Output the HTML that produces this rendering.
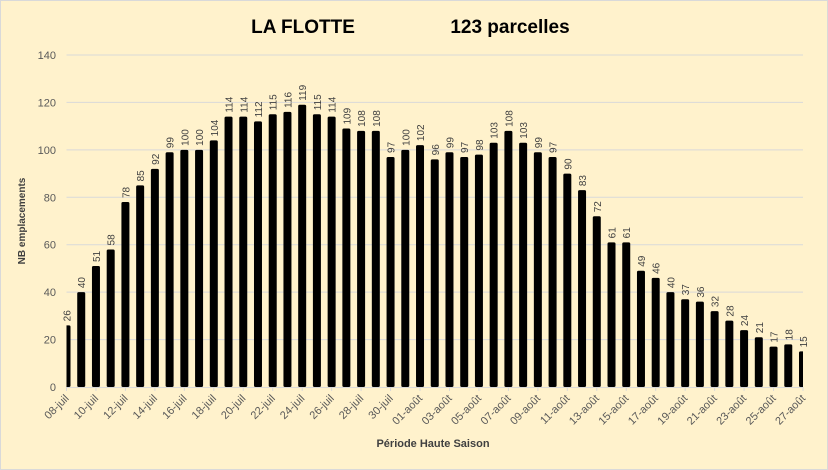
<!DOCTYPE html>
<html><head><meta charset="utf-8"><style>
html,body{margin:0;padding:0;background:#fff}
svg{display:block;font-family:"Liberation Sans",sans-serif}
</style></head><body>
<svg id="chart" width="828" height="470">
<rect x="0.5" y="0.5" width="827" height="469" fill="#FFF2CC" stroke="#D9D9D9"/>
<text x="303" y="33" font-size="19" font-weight="bold" text-anchor="middle" fill="#000">LA FLOTTE</text>
<text x="510" y="33" font-size="19" font-weight="bold" text-anchor="middle" fill="#000">123 parcelles</text>
<text transform="translate(25,221) rotate(-90)" font-size="10" font-weight="bold" text-anchor="middle" fill="#404040">NB emplacements</text>
<text x="433" y="447" font-size="11" font-weight="bold" text-anchor="middle" fill="#404040">Période Haute Saison</text>
<g id="grid"></g><g id="bars"></g><g id="labels"></g><g id="xaxis"></g>
</svg>
<script>
const categories = ["08-juil","09-juil","10-juil","11-juil","12-juil","13-juil","14-juil","15-juil","16-juil","17-juil","18-juil","19-juil","20-juil","21-juil","22-juil","23-juil","24-juil","25-juil","26-juil","27-juil","28-juil","29-juil","30-juil","31-juil","01-août","02-août","03-août","04-août","05-août","06-août","07-août","08-août","09-août","10-août","11-août","12-août","13-août","14-août","15-août","16-août","17-août","18-août","19-août","20-août","21-août","22-août","23-août","24-août","25-août","26-août","27-août"];
const values = [26,40,51,58,78,85,92,99,100,100,104,114,114,112,115,116,119,115,114,109,108,108,97,100,102,96,99,97,98,103,108,103,99,97,90,83,72,61,61,49,46,40,37,36,32,28,24,21,17,18,15];
const yTicks = [0,20,40,60,80,100,120,140];
const NS="http://www.w3.org/2000/svg";
const x0=66.5,x1=803,y0=387,yTop=55,yMax=140;
const xPos=i=>x0+i*(x1-x0)/(categories.length-1);
const yPos=v=>y0-v*(y0-yTop)/yMax;
function mk(t,a,p){const e=document.createElementNS(NS,t);for(const k in a)e.setAttribute(k,a[k]);p.appendChild(e);return e;}
const grid=document.getElementById('grid'),bars=document.getElementById('bars'),labels=document.getElementById('labels'),xa=document.getElementById('xaxis');
yTicks.forEach(v=>{
  if(v>0){const l=mk('line',{x1:x0,x2:x1,y1:yPos(v),y2:yPos(v),stroke:'#D9D9D9','stroke-width':1},grid);
  
  }
  const t=mk('text',{x:56,y:yPos(v)+4,'font-size':11,'text-anchor':'end',fill:'#595959'},grid);
  t.textContent=v;
  
  
});
const defs=mk('defs',{},bars);const cp=mk('clipPath',{id:'pc'},defs);mk('rect',{x:x0,y:0,width:x1-x0,height:470},cp);
const bg=mk('g',{'clip-path':'url(#pc)'},bars);
values.forEach((v,i)=>{
  const cx=xPos(i),w=8;
  const r=mk('rect',{x:cx-w/2,y:yPos(v),width:w,height:y0-yPos(v),rx:1.5,fill:'#000'},bg);
  
  
  const t=mk('text',{transform:`translate(${cx+4},${yPos(v)-4}) rotate(-90)`,'font-size':10,fill:'#404040'},labels);
  t.textContent=v;
  
  
});
const ax=mk('line',{x1:x0,x2:x1,y1:y0+0.5,y2:y0+0.5,stroke:'#D9D9D9'},xa);


categories.forEach((c,i)=>{
  if(i%2)return;
  const x=xPos(i);
  mk('line',{x1:x,x2:x,y1:y0,y2:y0+4,stroke:'#D9D9D9'},xa);
  const t=mk('text',{transform:`translate(${x+3},${y0+12}) rotate(-45)`,'font-size':11,'text-anchor':'end',fill:'#595959'},xa);
  t.textContent=c;
  
  
});
</script>
</body></html>
